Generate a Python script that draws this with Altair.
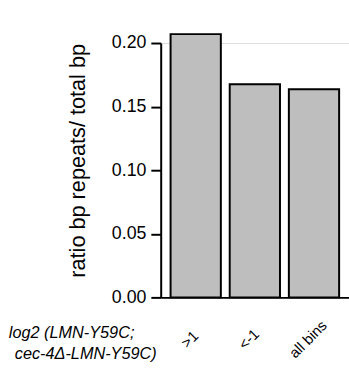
import altair as alt
import pandas as pd

categories = [">1", "<-1", "all bins"]
values = [0.207, 0.1675, 0.1637]
y_ticks = [0.0, 0.05, 0.10, 0.15, 0.20]
x_title_lines = ["log2 (LMN-Y59C;", "cec-4\u0394-LMN-Y59C)"]
y_title = "ratio bp repeats/ total bp"

df = pd.DataFrame({"cat": categories, "val": values})
FONT = "Liberation Sans"

x_enc = alt.X(
    "cat:N",
    sort=categories,
    scale=alt.Scale(paddingInner=0.15, paddingOuter=0.167),
    axis=alt.Axis(
        title=None,
        labelFont=FONT,
        labelFontSize=15,
        labelColor="black",
        labelAngle=-45,
        labelAlign="center",
        labelBaseline="middle",
        labelPadding=42,
        labelOffset=-6,
        ticks=False,
        tickSize=0,
        domainColor="black",
        domainWidth=2,
        grid=False,
    ),
)

y_enc = alt.Y(
    "val:Q",
    scale=alt.Scale(domain=[0, 0.2], nice=False, zero=True),
    axis=alt.Axis(
        title=y_title,
        titleFont=FONT,
        titleFontSize=22,
        titleFontWeight="normal",
        titleColor="black",
        titleAngle=270,
        titleBaseline="middle",
        titleAlign="center",
        titleX=-84,
        titleY=119,
        values=y_ticks,
        format=".2f",
        labelFont=FONT,
        labelFontSize=18,
        labelColor="black",
        labelPadding=5,
        tickSize=10,
        tickWidth=2,
        tickColor="black",
        domainColor="black",
        domainWidth=2,
        grid=False,
    ),
)

bars = alt.Chart(df).mark_bar(
    color="#bebebe", stroke="black", strokeWidth=2, clip=False
).encode(x=x_enc, y=y_enc)

title_style = dict(
    font=FONT, fontSize=16.5, fontStyle="italic", color="black",
    align="left", baseline="alphabetic",
)
t1 = alt.Chart().mark_text(text=x_title_lines[0], **title_style).encode(
    x=alt.value(-154), y=alt.value(299)
)
t2 = alt.Chart().mark_text(text=x_title_lines[1], **title_style).encode(
    x=alt.value(-148), y=alt.value(321)
)

chart = alt.layer(bars, t1, t2).properties(
    width=191,
    height=258,
    autosize=alt.AutoSizeParams(type="none"),
    padding={"left": 163, "top": 41, "right": 0, "bottom": 70},
).configure_view(stroke=None).configure(background="white")

chart.save("out.html", embed_options={"renderer": "svg", "actions": False})
